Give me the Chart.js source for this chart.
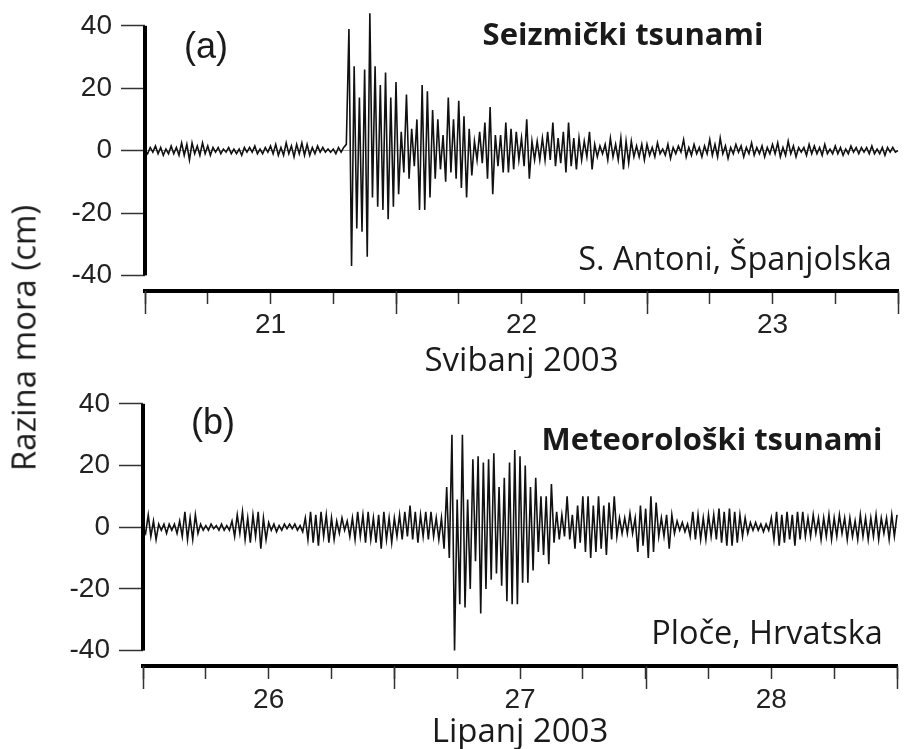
<!DOCTYPE html>
<html>
<head>
<meta charset="utf-8">
<script src="https://cdn.jsdelivr.net/npm/chart.js@4.4.1/dist/chart.umd.min.js"></script>
<style>
  body { margin: 0; background: #fff; }
  #wrap { position: relative; width: 910px; height: 749px; overflow: hidden; }
  canvas { position: absolute; left: 0; }
  #cA { top: 0; }
  #cB { top: 378px; }
  .note { position: absolute; white-space: nowrap; line-height: 1; color: #1a1a1a; transform: translate(-50%, -50%); }
  .tag { font-family: "Liberation Sans", Arial, sans-serif; font-size: 36px; }
  .title { font-family: "Open Sans", sans-serif; font-weight: 700; font-size: 31px; }
  .place { font-family: "Open Sans", sans-serif; font-size: 32.5px; }
  #ylab { font-family: "Open Sans", sans-serif; font-size: 33px; transform: translate(-50%, -50%) rotate(-90deg); }
</style>
</head>
<body>
<div id="wrap">
  <canvas id="cA" width="910" height="378"></canvas>
  <canvas id="cB" width="910" height="371"></canvas>
  <div class="note tag" style="left:206px; top:46px;">(a)</div>
  <div class="note title" style="left:623px; top:33px;">Seizmički tsunami</div>
  <div class="note place" style="left:735px; top:258px;">S. Antoni, Španjolska</div>
  <div class="note tag" style="left:213px; top:422px;">(b)</div>
  <div class="note title" style="left:712px; top:438px;">Meteorološki tsunami</div>
  <div class="note place" style="left:767px; top:632px;">Ploče, Hrvatska</div>
  <div class="note" id="ylab" style="left:23px; top:338px;">Razina mora (cm)</div>
</div>
<script>
// sea level (cm), one value every 15 min, each row = 6 hours
// (a) S. Antoni, 20.5 - 23.5 May 2003
const seismic = [
  0,-1,1,-0.5,1.5,-1,1,-1.5,0.5,-1,1.5,-1,1,-1.5,2.5,-1.5,2,-3,2.5,-1,1.5,-1.5,2.5,-1,
  1.5,-1.5,1,-0.5,1,-1,0.5,-0.5,1,-1,0.5,-1,0.5,-1.5,1,-0.5,1,-0.5,1.5,-1,0.5,-1,1,-0.5,
  1.5,-1,2,-1.5,1,-1.5,2.5,-1,1.5,-2,2,-1,2.5,-1.5,2,-1.5,1,-1,1.5,-0.5,1,-0.5,0.5,-0.5,
  0.5,-1,1,-0.5,1,2,39,-37,27,-25,17,-26,26,-34,44,-15,27,-18,21,-19,25,-22,17,-18,
  22,-14,6,-7,18,-9,7,-5,10,-19,21,-19,19,-15,13,-9,10,-6,5,-10,17,-7,10,-9,
  16,-12,11,-15,7,-8,3,-3,6,-4,9,-9,14,-14,5,-5,5,-7,9,-7,7,-6,6,-3,
  4,-5,10,-9,3,-3,3,-3,4,-3,6,-3,9,-5,4,-4,6,-7,9,-5,4,-6,4,-3,
  3,-2,6,-6,2,-2,1.5,-1,2,-3,4,-2,2,-3,4,-6,3,-4,3,-2,1.5,-2,2,-3,
  2,-1.5,1,-2,2.5,-1,0.5,-1.5,2,-2.5,1,-1,1.5,-0.5,3.5,-2,1,-1.5,2,-1,1,-2,1.5,-1,
  3.5,-1.5,2,-2,4,-1,1.5,-2.5,1,-1,2,-0.5,1.5,-2,1,-1,2.5,-1.5,1,-1,1.5,-2,1,-1,
  2,-1,2.5,-2,1,-1.5,3,-1,1.5,-2,1,-0.5,1,-1.5,2,-1,1.5,-1,1,-1.5,2,-1,0.5,-1,
  1.5,-1,1,-1.5,0.5,-1,1.5,-0.5,1,-1,1,-0.5,1,-1,1.5,-1,0.5,-1,1,-1.5,1,-0.5,1,-0.5,
  0
];
// (b) Ploče, 25.5 - 28.5 June 2003
const meteo = [
  0,-2,4,-3,2,-4,1,-1,1,-2,1,-1,1,-2,2,-3,5,-4,3,-4,4,-2,1,-1,
  0.5,-1,1,-0.5,0.5,-1,1,-1,0.5,-1,2,-3,4,-2,5,-4,3,-5,4,-3,5,-7,3,-4,
  1.5,-1,1,-1.5,0.5,-1,1,-0.5,1,-0.5,1,-1,0.5,-1.5,3,-4,5,-5,4,-6,5,-3,4,-5,
  3,-4,2,-2,3,-1,2,-3,3,-4,5,-3,4,-5,5,-4,3,-5,4,-7,5,-4,3,-5,
  3,-3,4,-4,5,-3,7,-4,5,-5,4,-3,5,-4,5,-3,3,-4,3,-7,13,-10,30,-40,
  9,-25,30,-26,9,-20,22,-11,23,-28,21,-20,22,-17,24,-15,13,-19,16,-24,21,-25,25,-25,
  23,-18,20,-18,13,-14,16,-8,10,-9,10,-12,14,-5,5,-4,4,-3,10,-4,4,-7,7,-5,
  10,-8,10,-10,7,-8,10,-7,7,-9,8,-4,10,-3,3,-2,3,-2,4.5,-2,3,-8,7,-6,
  6,-10,10,-8,8,-3,3,-3,4,-7,4,-2,2,-1,1.5,-1.5,1,-3,5,-4,4,-4,3,-4,
  4,-3,4,-4,6,-5,5,-6,6,-6,5,-5,4,-3,3,-2,1.5,-1,1.5,-1,1,-1.5,1,-1,
  3,-4,5,-6,4,-5,5,-4,4,-6,5,-4,5,-3,3,-3,4,-2,3,-4,3,-3,4,-4,
  3,-3,4,-2,3,-4,3,-3,2,-4,4,-3,3,-4,3,-3,4,-4,3,-2,3,-4,4,-3,
  4
];

const startA = 20.5;
const startB = 25.5;
const step = 1 / 96;
const daysA = [21, 22, 23];
const daysB = [26, 27, 28];
const yTicks = [-40, -30, -20, -10, 0, 10, 20, 30, 40];
const yLabels = [-40, -20, 0, 20, 40];

function toPoints(vals, t0) {
  return vals.map((v, i) => ({ x: t0 + i * step, y: v }));
}

// thick y axis only between -40 and 40, plus the longer ticks at mid-day
const axisExtras = {
  id: 'axisExtras',
  afterDraw(chart) {
    const { ctx, chartArea } = chart;
    const x = chart.scales.x, y = chart.scales.y;
    ctx.save();
    ctx.strokeStyle = '#000';
    ctx.lineWidth = 4;
    ctx.beginPath();
    ctx.moveTo(chartArea.left, y.getPixelForValue(40));
    ctx.lineTo(chartArea.left, y.getPixelForValue(-40));
    ctx.stroke();
    ctx.strokeStyle = '#333';
    ctx.lineWidth = 1.5;
    x.ticks.forEach(t => {
      if (t.value % 1 === 0.5) {
        const px = Math.round(x.getPixelForValue(t.value)) + 0.5;
        ctx.beginPath();
        ctx.moveTo(px, x.top);
        ctx.lineTo(px, x.top + 23);
        ctx.stroke();
      }
    });
    ctx.restore();
  }
};

function makeChart(id, vals, t0, days, xTitle, left, right, top, xh) {
  const ticksX = [];
  for (let k = 0; k <= 12; k++) ticksX.push(t0 + k * 0.25);
  return new Chart(document.getElementById(id), {
    type: 'line',
    data: {
      datasets: [{
        data: toPoints(vals, t0),
        borderColor: '#111',
        borderWidth: 1.6,
        pointRadius: 0,
        tension: 0,
        clip: false
      }]
    },
    options: {
      responsive: false,
      animation: false,
      devicePixelRatio: 1,
      layout: { padding: { top: top, right: right, left: 0, bottom: 0 } },
      plugins: { legend: { display: false }, tooltip: { enabled: false } },
      scales: {
        x: {
          type: 'linear',
          min: t0,
          max: t0 + 3,
          afterBuildTicks: s => { s.ticks = ticksX.map(v => ({ value: v })); },
          afterFit: s => { s.height = xh; },
          border: { color: '#000', width: 4 },
          grid: { drawOnChartArea: false, tickLength: 13, tickColor: '#333', tickWidth: 1.5 },
          ticks: {
            autoSkip: false, maxRotation: 0, padding: 4, color: '#222',
            font: { family: 'Liberation Sans', size: 28 },
            callback: v => days.includes(v) ? String(v) : ''
          },
          title: { display: true, text: xTitle, color: '#1a1a1a', padding: 0, font: { family: 'Open Sans', size: 33, lineHeight: 1 } }
        },
        y: {
          min: -45,
          max: 40,
          afterBuildTicks: s => { s.ticks = yTicks.map(v => ({ value: v })); },
          afterFit: s => { s.width = left; },
          border: { display: false },
          grid: {
            color: c => (c.tick && c.tick.value === 0) ? '#a0a0a0' : 'rgba(0,0,0,0)',
            lineWidth: 1, tickLength: 24, tickColor: '#333', tickWidth: 1.5
          },
          ticks: {
            padding: 9, color: '#222',
            font: { family: 'Liberation Sans', size: 28 },
            callback: v => yLabels.includes(v) ? String(v) : ''
          }
        }
      }
    },
    plugins: [axisExtras]
  });
}

makeChart('cA', seismic, startA, daysA, 'Svibanj 2003', 145, 12, 25, 87);
makeChart('cB', meteo, startB, daysB, 'Lipanj 2003', 143, 13, 20, 83);
</script>
</body>
</html>
